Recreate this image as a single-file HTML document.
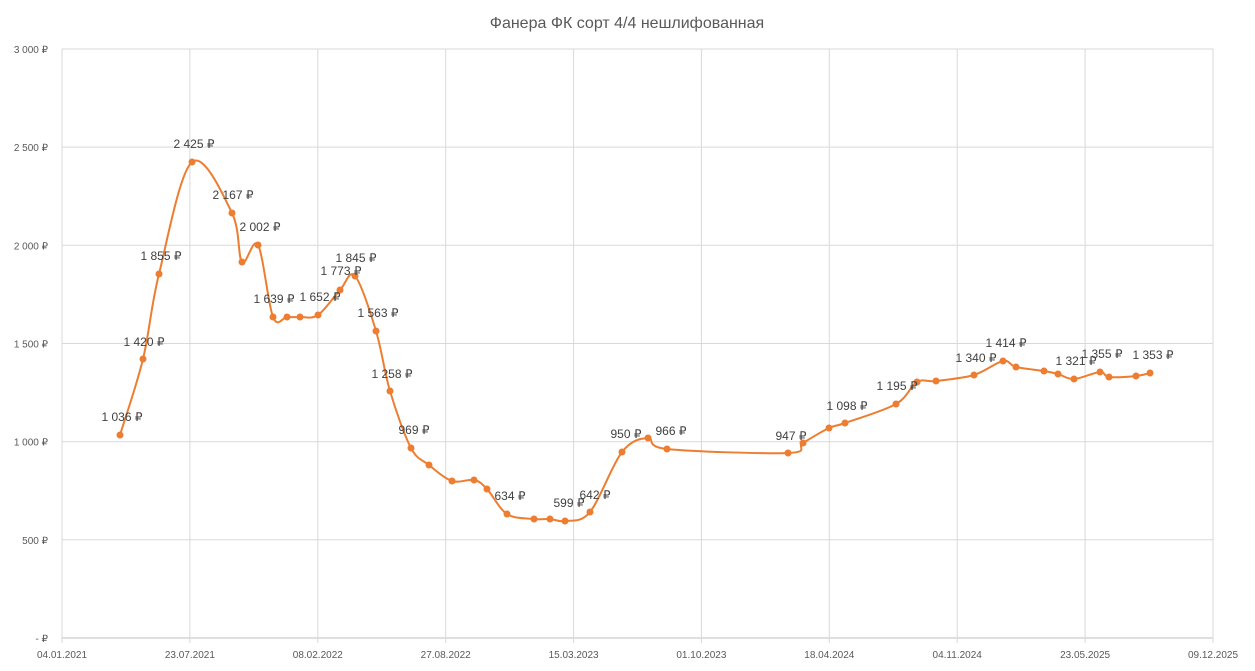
<!DOCTYPE html>
<html><head><meta charset="utf-8"><style>
body{margin:0;background:#fff;}
svg{display:block;font-family:"Liberation Sans",sans-serif;}
</style></head><body>
<svg id="s" width="1255" height="671" viewBox="0 0 1255 671">
<rect width="1255" height="671" fill="#fff"/>
<text x="627" y="28" text-anchor="middle" font-size="16" fill="#595959">Фанера ФК сорт 4/4 нешлифованная</text>
<g id="grid" stroke="#d9d9d9" stroke-width="1"></g>
<g id="labels" font-size="10" fill="#595959"></g>
<path id="line" fill="none" stroke="#ed7d31" stroke-width="2"/>
<g id="pts" fill="#ed7d31"></g>
<g id="dl" font-size="12" fill="#404040"></g>
</svg>
<script>
const NS="http://www.w3.org/2000/svg";
function el(t,a,p,txt){const e=document.createElementNS(NS,t);for(const k in a)e.setAttribute(k,a[k]);if(txt!=null)e.textContent=txt;document.getElementById(p).appendChild(e);}
const x0=62,x1=1213;
const ylab=["-  ₽","500 ₽","1 000 ₽","1 500 ₽","2 000 ₽","2 500 ₽","3 000 ₽"];
for(let i=0;i<=6;i++){const y=638-i*98.17;
 if(i>0)el("line",{x1:x0,x2:x1,y1:y.toFixed(1),y2:y.toFixed(1)},"grid");
 el("text",{x:48,y:(y+4).toFixed(1),"text-anchor":"end"},"labels",ylab[i]);}
el("line",{x1:x0,x2:x1,y1:638,y2:638,stroke:"#bfbfbf"},"grid");
const xl=["04.01.2021","23.07.2021","08.02.2022","27.08.2022","15.03.2023","01.10.2023","18.04.2024","04.11.2024","23.05.2025","09.12.2025"];
for(let i=0;i<10;i++){const x=x0+i*(x1-x0)/9;
 el("line",{x1:x.toFixed(1),x2:x.toFixed(1),y1:49,y2:643},"grid");
 el("text",{x:x.toFixed(1),y:658,"text-anchor":"middle"},"labels",xl[i]);}
const P=[[120,435,"1 036 ₽"],[143,359,"1 420 ₽"],[159,274,"1 855 ₽"],[192,162,"2 425 ₽"],[232,213,"2 167 ₽"],[242,262],[258,245,"2 002 ₽"],[273,317,"1 639 ₽"],[287,317],[300,317],[318,315,"1 652 ₽"],[340,290,"1 773 ₽"],[355,276,"1 845 ₽"],[376,331,"1 563 ₽"],[390,391,"1 258 ₽"],[411,448,"969 ₽"],[429,465],[452,481],[474,480],[487,489],[507,514,"634 ₽"],[534,519],[550,519],[565,521,"599 ₽"],[590,512,"642 ₽"],[622,452,"950 ₽"],[648,438],[667,449,"966 ₽"],[788,453,"947 ₽"],[803,443],[829,428],[845,423,"1 098 ₽"],[896,404,"1 195 ₽"],[917,382],[936,381],[974,375,"1 340 ₽"],[1003,361,"1 414 ₽"],[1016,367],[1044,371],[1058,374],[1074,379,"1 321 ₽"],[1100,372,"1 355 ₽"],[1109,377],[1136,376],[1150,373,"1 353 ₽"]];
const lo={"1 036 ₽":[2,-18],"1 420 ₽":[1,-17],"1 855 ₽":[2,-18],"2 425 ₽":[2,-18],"2 167 ₽":[1,-18],"2 002 ₽":[2,-18],"1 639 ₽":[1,-18],"1 652 ₽":[2,-18],"1 773 ₽":[1,-19],"1 845 ₽":[1,-18],"1 563 ₽":[2,-18],"1 258 ₽":[2,-17],"969 ₽":[3,-18],"634 ₽":[3,-18],"599 ₽":[4,-18],"642 ₽":[5,-17],"950 ₽":[4,-18],"966 ₽":[4,-18],"947 ₽":[3,-17],"1 098 ₽":[2,-17],"1 195 ₽":[1,-18],"1 340 ₽":[2,-17],"1 414 ₽":[3,-18],"1 321 ₽":[2,-18],"1 355 ₽":[2,-18],"1 353 ₽":[3,-18]};
let d="M"+P[0][0]+","+P[0][1];
for(let i=0;i<P.length-1;i++){const p0=P[Math.max(0,i-1)],p1=P[i],p2=P[i+1],p3=P[Math.min(P.length-1,i+2)];const t=1/6;
 d+=" C"+(p1[0]+(p2[0]-p0[0])*t).toFixed(1)+","+(p1[1]+(p2[1]-p0[1])*t).toFixed(1)+" "+(p2[0]-(p3[0]-p1[0])*t).toFixed(1)+","+(p2[1]-(p3[1]-p1[1])*t).toFixed(1)+" "+p2[0]+","+p2[1];}
document.getElementById("line").setAttribute("d",d);
for(const p of P){el("circle",{cx:p[0],cy:p[1],r:3.5},"pts");
 if(p[2]){const o=lo[p[2]]||[2,-18];el("text",{x:p[0]+o[0],y:p[1]+o[1]+4,"text-anchor":"middle"},"dl",p[2]);}}
</script>
</body></html>
